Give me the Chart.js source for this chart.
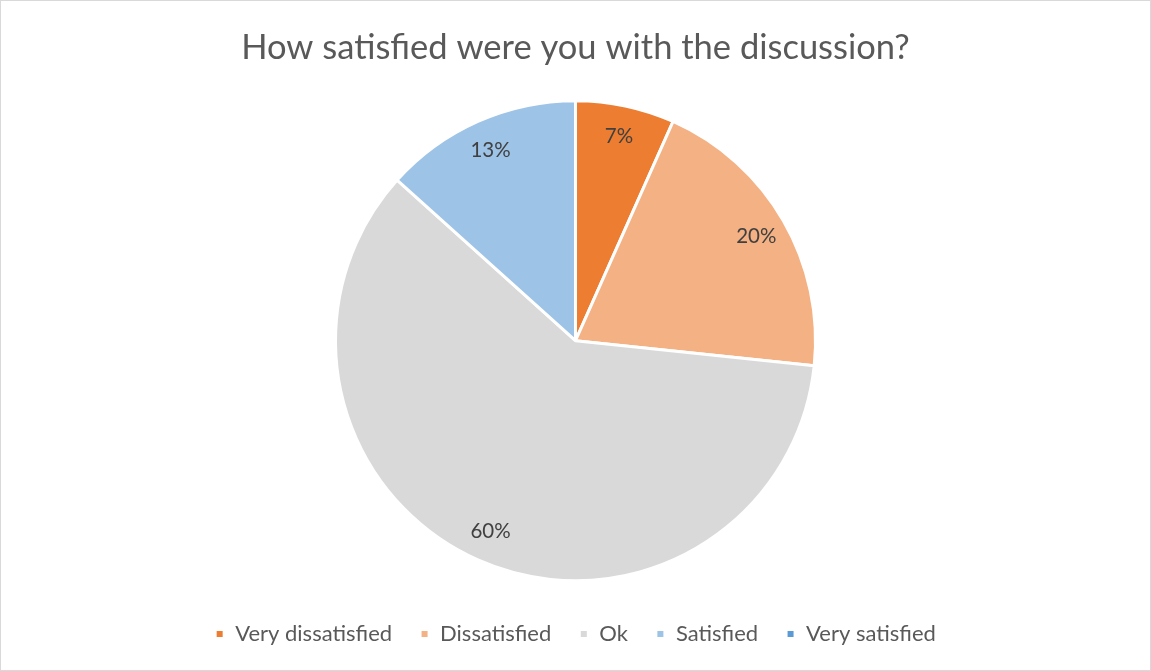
<!DOCTYPE html>
<html>
<head>
<meta charset="utf-8">
<script src="https://cdn.jsdelivr.net/npm/chart.js@4.4.0/dist/chart.umd.min.js"></script>
<style>
  html, body { margin: 0; padding: 0; background: #fff; }
  #wrap { width: 1149px; height: 669px; border: 1px solid #d9d9d9; }
</style>
</head>
<body>
<div id="wrap"><canvas id="pie" width="1149" height="669"></canvas></div>
<script>
// Ответы на вопрос
const categories = ['Very dissatisfied', 'Dissatisfied', 'Ok', 'Satisfied', 'Very satisfied'];
const counts = [1, 3, 9, 2, 0];
const sliceColors = ['#ED7D31', '#F4B183', '#D9D9D9', '#9DC3E6', '#5B9BD5'];

const FONT = 'Lato, "Open Sans", sans-serif';

// Подписи с процентами внутри секторов
const percentLabels = {
    id: 'percentLabels',
    afterDatasetsDraw(chart) {
        const ctx = chart.ctx;
        const data = chart.data.datasets[0].data;
        const total = data.reduce((a, b) => a + b, 0);
        const meta = chart.getDatasetMeta(0);
        ctx.save();
        ctx.font = '20.5px ' + FONT;
        ctx.fillStyle = '#404040';
        ctx.textAlign = 'center';
        ctx.textBaseline = 'middle';
        meta.data.forEach((arc, i) => {
            if (!data[i]) return;
            const p = arc.getProps(['x', 'y', 'startAngle', 'endAngle', 'outerRadius'], true);
            const mid = (p.startAngle + p.endAngle) / 2;
            const r = p.outerRadius * 0.87;
            const text = Math.round(data[i] / total * 100) + '%';
            ctx.fillText(text, p.x + Math.cos(mid) * r, p.y + Math.sin(mid) * r);
        });
        ctx.restore();
    }
};

const ctx = document.getElementById('pie').getContext('2d');
const myChart = new Chart(ctx, {
    type: 'pie',
    data: {
        labels: categories,
        datasets: [{
            data: counts,
            backgroundColor: sliceColors,
            borderColor: '#ffffff',
            borderWidth: 3,
            radius: 240
        }]
    },
    plugins: [percentLabels],
    options: {
        responsive: false,
        animation: false,
        layout: { padding: { bottom: 15 } },
        plugins: {
            title: {
                display: true,
                text: 'How satisfied were you with the discussion?',
                color: '#595959',
                font: { family: FONT, size: 34.5, weight: 'normal' },
                padding: { top: 26, bottom: 18 }
            },
            legend: {
                position: 'bottom',
                labels: {
                    color: '#595959',
                    font: { family: FONT, size: 22 },
                    boxWidth: 9,
                    boxHeight: 9,
                    padding: 28
                }
            },
            tooltip: { enabled: false }
        }
    }
});
</script>
</body>
</html>
